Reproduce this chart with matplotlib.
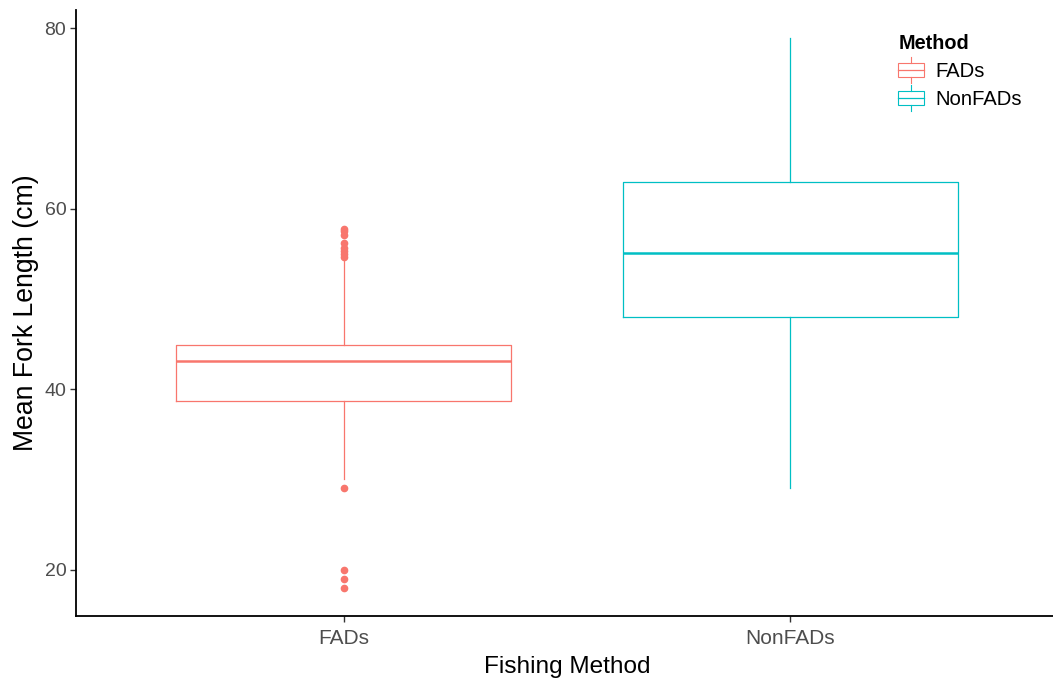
import matplotlib
matplotlib.use("Agg")
import matplotlib.pyplot as plt
from matplotlib.legend_handler import HandlerBase
from matplotlib.patches import Rectangle
from matplotlib.lines import Line2D

plt.rcParams['font.family'] = ['Liberation Sans', 'DejaVu Sans']

methods = ["FADs", "NonFADs"]
colors = ["#F8766D", "#00BFC4"]
q1 = [38.7, 48.0]
median = [43.1, 55.1]
q3 = [44.9, 63.0]
whisker_low = [30.0, 29.0]
whisker_high = [54.3, 79.0]
outliers = [
    [57.8, 57.5, 57.1, 56.2, 55.7, 55.3, 55.0, 54.7, 29.0, 20.0, 18.9, 17.9],
    [],
]


class BoxHandler(HandlerBase):
    # small box-and-whisker glyph for the legend keys
    def create_artists(self, legend, orig_handle, xdescent, ydescent,
                       width, height, fontsize, trans):
        c = orig_handle.get_color()
        x0 = -xdescent
        y0 = -ydescent
        cx = x0 + width / 2
        ext = height * 0.45
        arts = [
            Line2D([cx, cx], [y0 - ext, y0], color=c, lw=0.8),
            Line2D([cx, cx], [y0 + height, y0 + height + ext], color=c, lw=0.8),
            Rectangle((x0, y0), width, height, fill=False, ec=c, lw=0.8),
            Line2D([x0, x0 + width], [y0 + height / 2] * 2, color=c, lw=0.9),
        ]
        for a in arts:
            a.set_transform(trans)
        return arts


fig = plt.figure(figsize=(10.53, 6.82), dpi=100)
ax = fig.add_axes([76 / 1053, 66 / 682, 982 / 1053, 606 / 682])

stats = []
for i in range(len(methods)):
    stats.append(dict(med=median[i], q1=q1[i], q3=q3[i],
                      whislo=whisker_low[i], whishi=whisker_high[i],
                      fliers=outliers[i], label=methods[i]))

for i, s in enumerate(stats):
    c = colors[i]
    ax.bxp([s], positions=[i + 1], widths=0.75, showcaps=False,
           boxprops=dict(color=c, lw=0.9),
           whiskerprops=dict(color=c, lw=0.9),
           medianprops=dict(color=c, lw=1.8),
           flierprops=dict(marker='o', markerfacecolor=c, markeredgecolor=c,
                           markersize=4.5))

ax.set_xlim(0.4, 2.6)
ax.set_ylim(14.85, 82.05)
ax.set_yticks([20, 40, 60, 80])
ax.set_xticks([1, 2])
ax.set_xticklabels(methods)

for side in ["top", "right"]:
    ax.spines[side].set_visible(False)
for side in ["left", "bottom"]:
    ax.spines[side].set_linewidth(1.3)
ax.tick_params(labelcolor="#4D4D4D", color="#333333", length=4, width=1)
ax.tick_params(axis="y", labelsize=14, pad=3)
ax.tick_params(axis="x", labelsize=15, pad=5)

ax.set_xlabel("Fishing Method", fontsize=17.6, labelpad=6)
ax.set_ylabel("Mean Fork Length (cm)", fontsize=19.2, labelpad=4)

handles = [Line2D([], [], color=c) for c in colors]
leg = ax.legend(handles, methods, title="Method", handler_map={Line2D: BoxHandler()},
                loc="upper left", bbox_to_anchor=(0.827, 0.977), frameon=False,
                borderpad=0, fontsize=14.6, handlelength=1.25, handleheight=0.65,
                handletextpad=0.6, labelspacing=0.45)
leg.get_title().set_fontweight("bold")
leg.get_title().set_fontsize(14.3)
leg._legend_box.align = "left"

fig.savefig("out.png", dpi=100)
